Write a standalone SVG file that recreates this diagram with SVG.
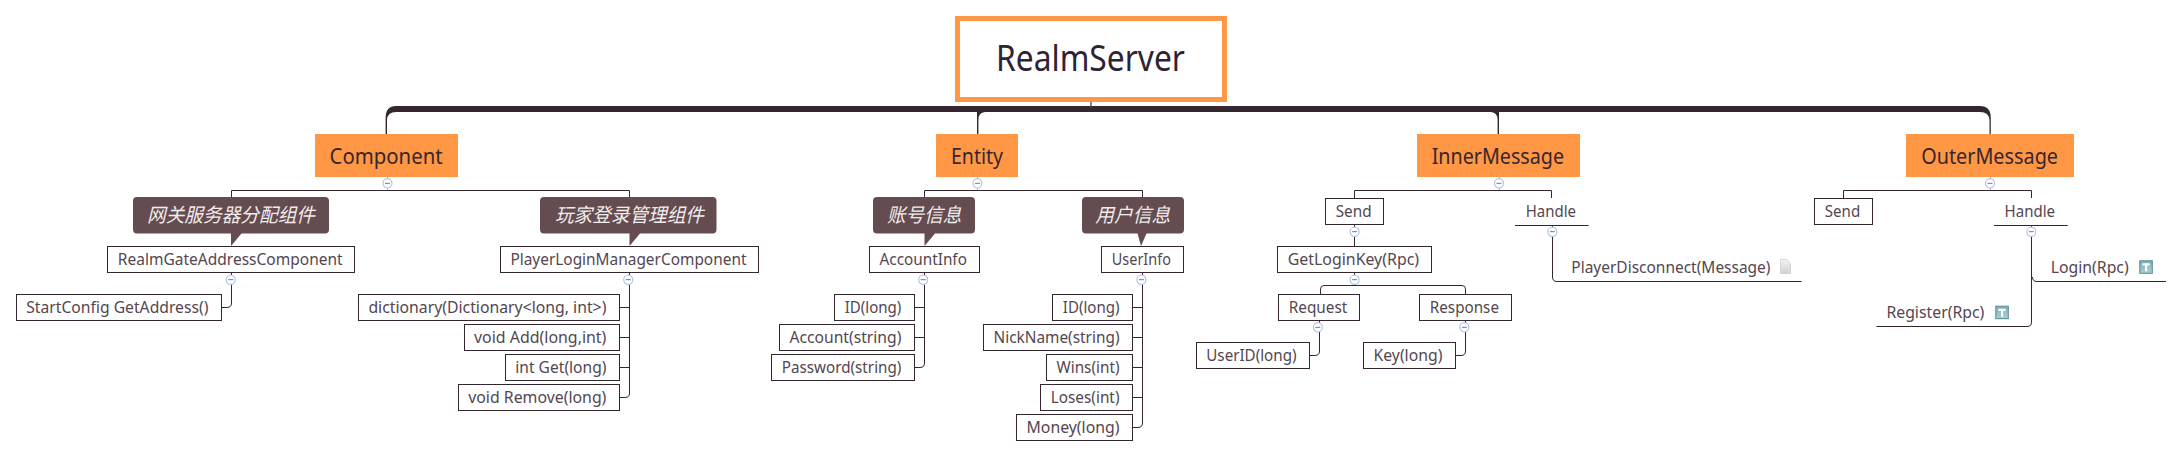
<svg xmlns="http://www.w3.org/2000/svg" width="2182" height="457" viewBox="0 0 2182 457">
<style>
text{font-family:"Noto Sans","Liberation Sans","Noto Sans CJK SC",sans-serif;fill:#54464f;font-size:17px}
.root{font-size:36px;fill:#2e2236}
.topic{font-size:21px;fill:#35262f}
.note text{font-family:"Noto Sans CJK SC","Noto Sans",sans-serif;font-style:italic;font-size:19.5px;fill:#f1ecec}
.box{fill:#fff;stroke:#33262e;stroke-width:1}
.bar{fill:#35272f}
.main{fill:#ff9745}
.line{fill:none;stroke:#33262e;stroke-width:1}
.thin{fill:none;stroke:#4e424b;stroke-width:1.3}
.stem{fill:none;stroke:#a9b3cc;stroke-width:1}
.bubble{fill:#654c50}
.btn{fill:#fff;stroke:#aebfe6;stroke-width:1.1}
.minus{stroke:#6f7890;stroke-width:1}
</style>
<defs>
<g id="collapse"><ellipse class="btn" cx="0" cy="0" rx="4.5" ry="4.7"/><path class="minus" d="M-2.5,0H2.5"/></g>
<linearGradient id="tg" x1="0" y1="0" x2="0" y2="1"><stop offset="0" stop-color="#7fb0b7"/><stop offset="1" stop-color="#a8cfd4"/></linearGradient>
<linearGradient id="pg" x1="0" y1="0" x2="0" y2="1"><stop offset="0" stop-color="#f2f2f2"/><stop offset="1" stop-color="#d2d2d2"/></linearGradient>
<g id="ticon"><rect x="0.5" y="0.5" width="12.5" height="12.5" fill="url(#tg)" stroke="#5b8a93"/><path d="M3.2,3H10.4V5.2H7.9V11H5.7V5.2H3.2Z" fill="#fff"/></g>
</defs>

<g id="connectors">
<path class="bar" d="M1980,106 Q1990.8,106 1990.8,118 L1990.8,134 L1989.5,134 L1989.5,120 Q1989,112 1980,112 L396,112 Q387.5,112 387,120 L387,134 L385.6,134 L385.6,118 Q385.6,106 396,106 Z"/>
<path class="bar" d="M977,112 L977,134 L978.4,134 L978.4,120 Q978.4,112.5 985,112 Z"/>
<path class="bar" d="M1499,112 L1499,134 L1497.6,134 L1497.6,120 Q1497.6,112.5 1491,112 Z"/>
<path class="thin" d="M1091,102V108"/>
<path class="stem" d="M387.5,177V190M977.5,177V190M1499.5,177V190M1990.5,177V190"/>
<path class="line" d="M231.5,197V190.5H629.5V197"/>
<path class="line" d="M924.5,197V190.5H1142.5V197"/>
<path class="line" d="M1354.5,198V190.5H1551.5V198"/>
<path class="line" d="M1843.5,198V190.5H2031.5V198"/>
<path class="line" d="M231.5,272V303Q231.5,307.5 227,307.5H221.5"/>
<path class="line" d="M629.5,272V393Q629.5,397.5 625,397.5H619.5M629.5,307.5H619.5M629.5,337.5H619.5M629.5,367.5H619.5"/>
<path class="line" d="M924.5,272V363Q924.5,367.5 920,367.5H914.5M924.5,307.5H914.5M924.5,337.5H914.5"/>
<path class="line" d="M1142.5,272V423Q1142.5,427.5 1138,427.5H1132.5M1142.5,307.5H1132.5M1142.5,337.5H1132.5M1142.5,367.5H1132.5M1142.5,397.5H1132.5"/>
<path class="line" d="M1354.5,224V246M1354.5,272V285.5M1320.5,294V289Q1320.5,285.5 1324,285.5H1462Q1465.5,285.5 1465.5,289V294"/>
<path class="line" d="M1319.5,320V351Q1319.5,355.5 1315,355.5H1309.5"/>
<path class="line" d="M1465.5,320V351Q1465.5,355.5 1461,355.5H1455.5"/>
<path class="line" d="M1552.5,225V277Q1552.5,281.5 1557,281.5H1801.5"/>
<path class="line" d="M2031.5,225V322Q2031.5,326.5 2027,326.5H1876.5M2032.5,277Q2032.5,281.5 2037,281.5H2166"/>
<g id="collapse-buttons">
<use href="#collapse" x="387.5" y="183.3"/><use href="#collapse" x="977.5" y="183.3"/><use href="#collapse" x="1499" y="183.3"/><use href="#collapse" x="1990" y="183.3"/>
<use href="#collapse" x="230.7" y="279.7"/><use href="#collapse" x="628.2" y="279.7"/><use href="#collapse" x="923.2" y="279.7"/><use href="#collapse" x="1141.4" y="279.7"/>
<use href="#collapse" x="1354.6" y="231.7"/><use href="#collapse" x="1354.6" y="279.7"/><use href="#collapse" x="1317.8" y="327.3"/><use href="#collapse" x="1464.4" y="327.3"/>
<use href="#collapse" x="1552.4" y="231.7"/><use href="#collapse" x="2031.3" y="231.7"/>
</g>
</g>

<g id="root"><rect x="957.5" y="18.5" width="267" height="81" fill="#fff" stroke="#ff9745" stroke-width="5"/><text class="root" x="996" y="71" textLength="189" lengthAdjust="spacingAndGlyphs">RealmServer</text></g>
<g id="component"><rect class="main" x="315" y="134" width="143" height="43"/><text class="topic" x="329.6" y="163.8" textLength="113" lengthAdjust="spacingAndGlyphs">Component</text></g>
<g id="entity"><rect class="main" x="936" y="134" width="82" height="43"/><text class="topic" x="951" y="163.8" textLength="52" lengthAdjust="spacingAndGlyphs">Entity</text></g>
<g id="innermessage"><rect class="main" x="1417" y="134" width="163" height="43"/><text class="topic" x="1431.7" y="163.8" textLength="132.3" lengthAdjust="spacingAndGlyphs">InnerMessage</text></g>
<g id="outermessage"><rect class="main" x="1906" y="134" width="168" height="43"/><text class="topic" x="1921.2" y="163.8" textLength="136.8" lengthAdjust="spacingAndGlyphs">OuterMessage</text></g>

<g id="note-gateway" class="note"><path class="bubble" d="M137,197H325Q329,197 329,201V229.5Q329,233.5 325,233.5H241.5L231,246V233.5H137Q133,233.5 133,229.5V201Q133,197 137,197Z"/><text x="147" y="221.5" textLength="168" lengthAdjust="spacingAndGlyphs">网关服务器分配组件</text></g>
<g id="note-login" class="note"><path class="bubble" d="M544,197H712.5Q716.5,197 716.5,201V229.5Q716.5,233.5 712.5,233.5H640L629.5,246V233.5H544Q540,233.5 540,229.5V201Q540,197 544,197Z"/><text x="555" y="221.5" textLength="149" lengthAdjust="spacingAndGlyphs">玩家登录管理组件</text></g>
<g id="note-account" class="note"><path class="bubble" d="M877,197H971Q975,197 975,201V229.5Q975,233.5 971,233.5H935L924.5,246V233.5H877Q873,233.5 873,229.5V201Q873,197 877,197Z"/><text x="887" y="221.5" textLength="74.5" lengthAdjust="spacingAndGlyphs">账号信息</text></g>
<g id="note-user" class="note"><path class="bubble" d="M1086,197H1180Q1184,197 1184,201V229.5Q1184,233.5 1180,233.5H1146.5L1141,246L1137.5,233.5H1086Q1082,233.5 1082,229.5V201Q1082,197 1086,197Z"/><text x="1095.3" y="221.5" textLength="75" lengthAdjust="spacingAndGlyphs">用户信息</text></g>

<g id="realmgate"><rect class="box" x="107.5" y="246.5" width="247" height="26"/><text x="117.8" y="265.3" textLength="224.9" lengthAdjust="spacingAndGlyphs">RealmGateAddressComponent</text></g>
<g id="startconfig"><rect class="box" x="16.5" y="294.5" width="205" height="26"/><text x="26.2" y="313.3" textLength="182.2" lengthAdjust="spacingAndGlyphs">StartConfig GetAddress()</text></g>
<g id="playerlogin"><rect class="box" x="500.5" y="246.5" width="258" height="26"/><text x="510.4" y="265.3" textLength="236.1" lengthAdjust="spacingAndGlyphs">PlayerLoginManagerComponent</text></g>
<g id="dictionary"><rect class="box" x="358.5" y="294.5" width="261" height="26"/><text x="368.4" y="313.3" textLength="238" lengthAdjust="spacingAndGlyphs">dictionary(Dictionary&lt;long, int&gt;)</text></g>
<g id="add"><rect class="box" x="464.5" y="324.5" width="155" height="26"/><text x="474" y="343.3" textLength="132.4" lengthAdjust="spacingAndGlyphs">void Add(long,int)</text></g>
<g id="get"><rect class="box" x="505.5" y="354.5" width="114" height="26"/><text x="515.3" y="373.3" textLength="91.1" lengthAdjust="spacingAndGlyphs">int Get(long)</text></g>
<g id="remove"><rect class="box" x="458.5" y="384.5" width="161" height="26"/><text x="468.2" y="403.3" textLength="138.2" lengthAdjust="spacingAndGlyphs">void Remove(long)</text></g>

<g id="accountinfo"><rect class="box" x="869.5" y="246.5" width="110" height="26"/><text x="879.6" y="265.3" textLength="87.3" lengthAdjust="spacingAndGlyphs">AccountInfo</text></g>
<g id="acc-id"><rect class="box" x="834.5" y="294.5" width="80" height="26"/><text x="844.7" y="313.3" textLength="56.7" lengthAdjust="spacingAndGlyphs">ID(long)</text></g>
<g id="acc-account"><rect class="box" x="779.5" y="324.5" width="135" height="26"/><text x="789.4" y="343.3" textLength="112" lengthAdjust="spacingAndGlyphs">Account(string)</text></g>
<g id="acc-password"><rect class="box" x="771.5" y="354.5" width="143" height="26"/><text x="781.7" y="373.3" textLength="119.7" lengthAdjust="spacingAndGlyphs">Password(string)</text></g>

<g id="userinfo"><rect class="box" x="1101.5" y="246.5" width="82" height="26"/><text x="1111.8" y="265.3" textLength="59.1" lengthAdjust="spacingAndGlyphs">UserInfo</text></g>
<g id="usr-id"><rect class="box" x="1052.5" y="294.5" width="80" height="26"/><text x="1062.8" y="313.3" textLength="56.7" lengthAdjust="spacingAndGlyphs">ID(long)</text></g>
<g id="usr-nick"><rect class="box" x="983.5" y="324.5" width="149" height="26"/><text x="993.5" y="343.3" textLength="126" lengthAdjust="spacingAndGlyphs">NickName(string)</text></g>
<g id="usr-wins"><rect class="box" x="1046.5" y="354.5" width="86" height="26"/><text x="1056.5" y="373.3" textLength="63" lengthAdjust="spacingAndGlyphs">Wins(int)</text></g>
<g id="usr-loses"><rect class="box" x="1040.5" y="384.5" width="92" height="26"/><text x="1050.7" y="403.3" textLength="68.8" lengthAdjust="spacingAndGlyphs">Loses(int)</text></g>
<g id="usr-money"><rect class="box" x="1016.5" y="414.5" width="116" height="26"/><text x="1026.5" y="433.3" textLength="93" lengthAdjust="spacingAndGlyphs">Money(long)</text></g>

<g id="inner-send"><rect class="box" x="1325.5" y="198.5" width="58" height="26"/><text x="1335.7" y="217.3" textLength="35.9" lengthAdjust="spacingAndGlyphs">Send</text></g>
<g id="inner-handle"><text x="1525.7" y="217.3" textLength="50.3" lengthAdjust="spacingAndGlyphs">Handle</text><path class="line" d="M1515,225.5H1588.7"/></g>
<g id="getloginkey"><rect class="box" x="1277.5" y="246.5" width="154" height="26"/><text x="1287.7" y="265.3" textLength="131.4" lengthAdjust="spacingAndGlyphs">GetLoginKey(Rpc)</text></g>
<g id="request"><rect class="box" x="1278.5" y="294.5" width="81" height="26"/><text x="1288.7" y="313.3" textLength="58.7" lengthAdjust="spacingAndGlyphs">Request</text></g>
<g id="response"><rect class="box" x="1419.5" y="294.5" width="92" height="26"/><text x="1429.8" y="313.3" textLength="69.2" lengthAdjust="spacingAndGlyphs">Response</text></g>
<g id="userid"><rect class="box" x="1196.5" y="342.5" width="113" height="26"/><text x="1206.3" y="361.3" textLength="90.2" lengthAdjust="spacingAndGlyphs">UserID(long)</text></g>
<g id="key"><rect class="box" x="1363.5" y="342.5" width="92" height="26"/><text x="1373.5" y="361.3" textLength="68.9" lengthAdjust="spacingAndGlyphs">Key(long)</text></g>
<g id="playerdisconnect"><text x="1571.3" y="273" textLength="199.2" lengthAdjust="spacingAndGlyphs">PlayerDisconnect(Message)</text><path d="M1780.5,259.5H1787L1790.5,263.5V273.5H1780.5Z" fill="url(#pg)" stroke="#c9c9c9" stroke-width=".7"/></g>

<g id="outer-send"><rect class="box" x="1814.5" y="198.5" width="58" height="26"/><text x="1824.8" y="217.3" textLength="35.4" lengthAdjust="spacingAndGlyphs">Send</text></g>
<g id="outer-handle"><text x="2004.6" y="217.3" textLength="50.4" lengthAdjust="spacingAndGlyphs">Handle</text><path class="line" d="M1994,225.5H2067.7"/></g>
<g id="login"><text x="2050.7" y="273" textLength="78" lengthAdjust="spacingAndGlyphs">Login(Rpc)</text><use href="#ticon" x="2139.3" y="260.3"/></g>
<g id="register"><text x="1886.4" y="318" textLength="97.9" lengthAdjust="spacingAndGlyphs">Register(Rpc)</text><use href="#ticon" x="1995.3" y="305.7"/></g>
</svg>
